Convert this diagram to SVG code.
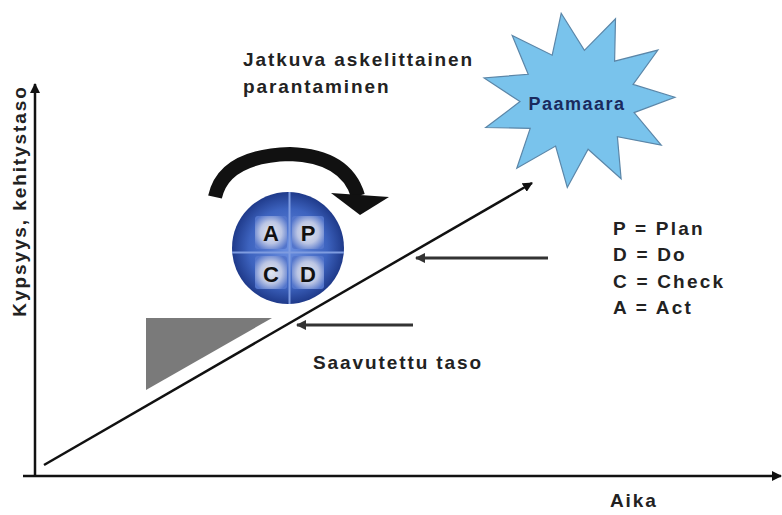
<svg xmlns="http://www.w3.org/2000/svg" width="782" height="515" viewBox="0 0 782 515">
<defs>
<style>
.t{font-family:"Liberation Sans",Arial,sans-serif;font-size:19px;font-weight:bold;fill:#222;letter-spacing:1.9px;}
.lg{font-family:"Liberation Sans",Arial,sans-serif;font-size:19px;font-weight:bold;fill:#222;letter-spacing:2.2px;}
.ax{stroke:#111;stroke-width:2.5;fill:none;}
.ptr{stroke:#333;stroke-width:3;fill:none;}
.lt{font-family:"Liberation Sans",Arial,sans-serif;font-size:22px;font-weight:bold;fill:#111;text-anchor:middle;}
</style>
<marker id="ah" viewBox="0 0 10 10" refX="9" refY="5" markerWidth="4" markerHeight="4" orient="auto" markerUnits="strokeWidth">
<path d="M0,0 L10,5 L0,10 z" fill="#111"/>
</marker>
<marker id="ah2" viewBox="0 0 10 10" refX="9" refY="5" markerWidth="3.5" markerHeight="3.5" orient="auto" markerUnits="strokeWidth">
<path d="M0,0 L10,5 L0,10 z" fill="#333"/>
</marker>
<radialGradient id="ball" cx="0.5" cy="0.5" r="0.5">
<stop offset="0" stop-color="#6a8ee0"/>
<stop offset="0.7" stop-color="#3d63bf"/>
<stop offset="1" stop-color="#1f3a8a"/>
</radialGradient>
<radialGradient id="tile" cx="0.5" cy="0.5" r="0.6">
<stop offset="0" stop-color="#e2e6ef"/>
<stop offset="0.55" stop-color="#bcc6e4"/>
<stop offset="1" stop-color="#5476cc"/>
</radialGradient>
</defs>
<rect width="782" height="515" fill="#ffffff"/>

<g id="connectors">
<line class="ax" x1="35" y1="477" x2="35" y2="84" marker-end="url(#ah)"/>
<line class="ax" x1="23" y1="476" x2="781" y2="476" marker-end="url(#ah)"/>
<line class="ax" x1="44" y1="465" x2="532" y2="183" marker-end="url(#ah)"/>
<line class="ptr" x1="548" y1="258" x2="416" y2="258" marker-end="url(#ah2)"/>
<line class="ptr" x1="413" y1="325" x2="297" y2="325" marker-end="url(#ah2)"/>
</g>

<g id="triangle">
<polygon points="146,318 272,318 146,390" fill="#7a7a7a"/>
</g>

<g id="cycle-arrow">
<path d="M215,197 Q224,156 290,154 Q346,156 358,196" fill="none" stroke="#111" stroke-width="14"/>
<polygon points="331,193 389,197 360,215" fill="#111"/>
</g>

<g id="pdca">
<circle cx="288" cy="248" r="56" fill="url(#ball)"/>
<rect x="255" y="216" width="32" height="33" rx="3" fill="url(#tile)"/>
<rect x="292" y="216" width="32" height="33" rx="3" fill="url(#tile)"/>
<rect x="255" y="256" width="32" height="33" rx="3" fill="url(#tile)"/>
<rect x="292" y="256" width="32" height="33" rx="3" fill="url(#tile)"/>
<line x1="289.5" y1="192" x2="289.5" y2="304" stroke="#7f9ce0" stroke-width="2"/>
<line x1="232" y1="252.5" x2="344" y2="252.5" stroke="#7f9ce0" stroke-width="2"/>
<text class="lt" x="271" y="241">A</text>
<text class="lt" x="308" y="241">P</text>
<text class="lt" x="271" y="282">C</text>
<text class="lt" x="308" y="282">D</text>
</g>

<g id="goal">
<polygon points="561.2,13.3 584.4,50.3 615.5,18.8 614.6,61.2 657.9,50.1 633.1,84.4 674.9,97.2 634.1,112.6 661.2,145.2 617.4,136.7 621.1,178.8 588.1,149.2 567.3,187.5 555.6,146.1 516.8,168.3 530.2,128.4 485.8,127.5 520,101.6 484.1,77.9 528.2,74.3 512.2,35.4 552.2,55.2" fill="#79c3ec" stroke="#5b86a8" stroke-width="1.2"/>
<text x="577" y="110" font-family="'Liberation Sans',Arial,sans-serif" font-size="18" font-weight="bold" letter-spacing="1.5" fill="#1a2a5e" text-anchor="middle">Paamaara</text>
</g>

<g id="labels">
<text class="t" x="243" y="66">Jatkuva askelittainen</text>
<text class="t" x="243" y="93">parantaminen</text>
<text class="t" x="313" y="369">Saavutettu taso</text>
<text class="lg" x="613" y="235">P = Plan</text>
<text class="lg" x="613" y="261">D = Do</text>
<text class="lg" x="613" y="288">C = Check</text>
<text class="lg" x="613" y="314">A = Act</text>
<text class="t" x="610" y="507">Aika</text>
<text class="t" transform="translate(26,201) rotate(-90)" text-anchor="middle" font-size="18" letter-spacing="1.8">Kypsyys, kehitystaso</text>
</g>
</svg>
